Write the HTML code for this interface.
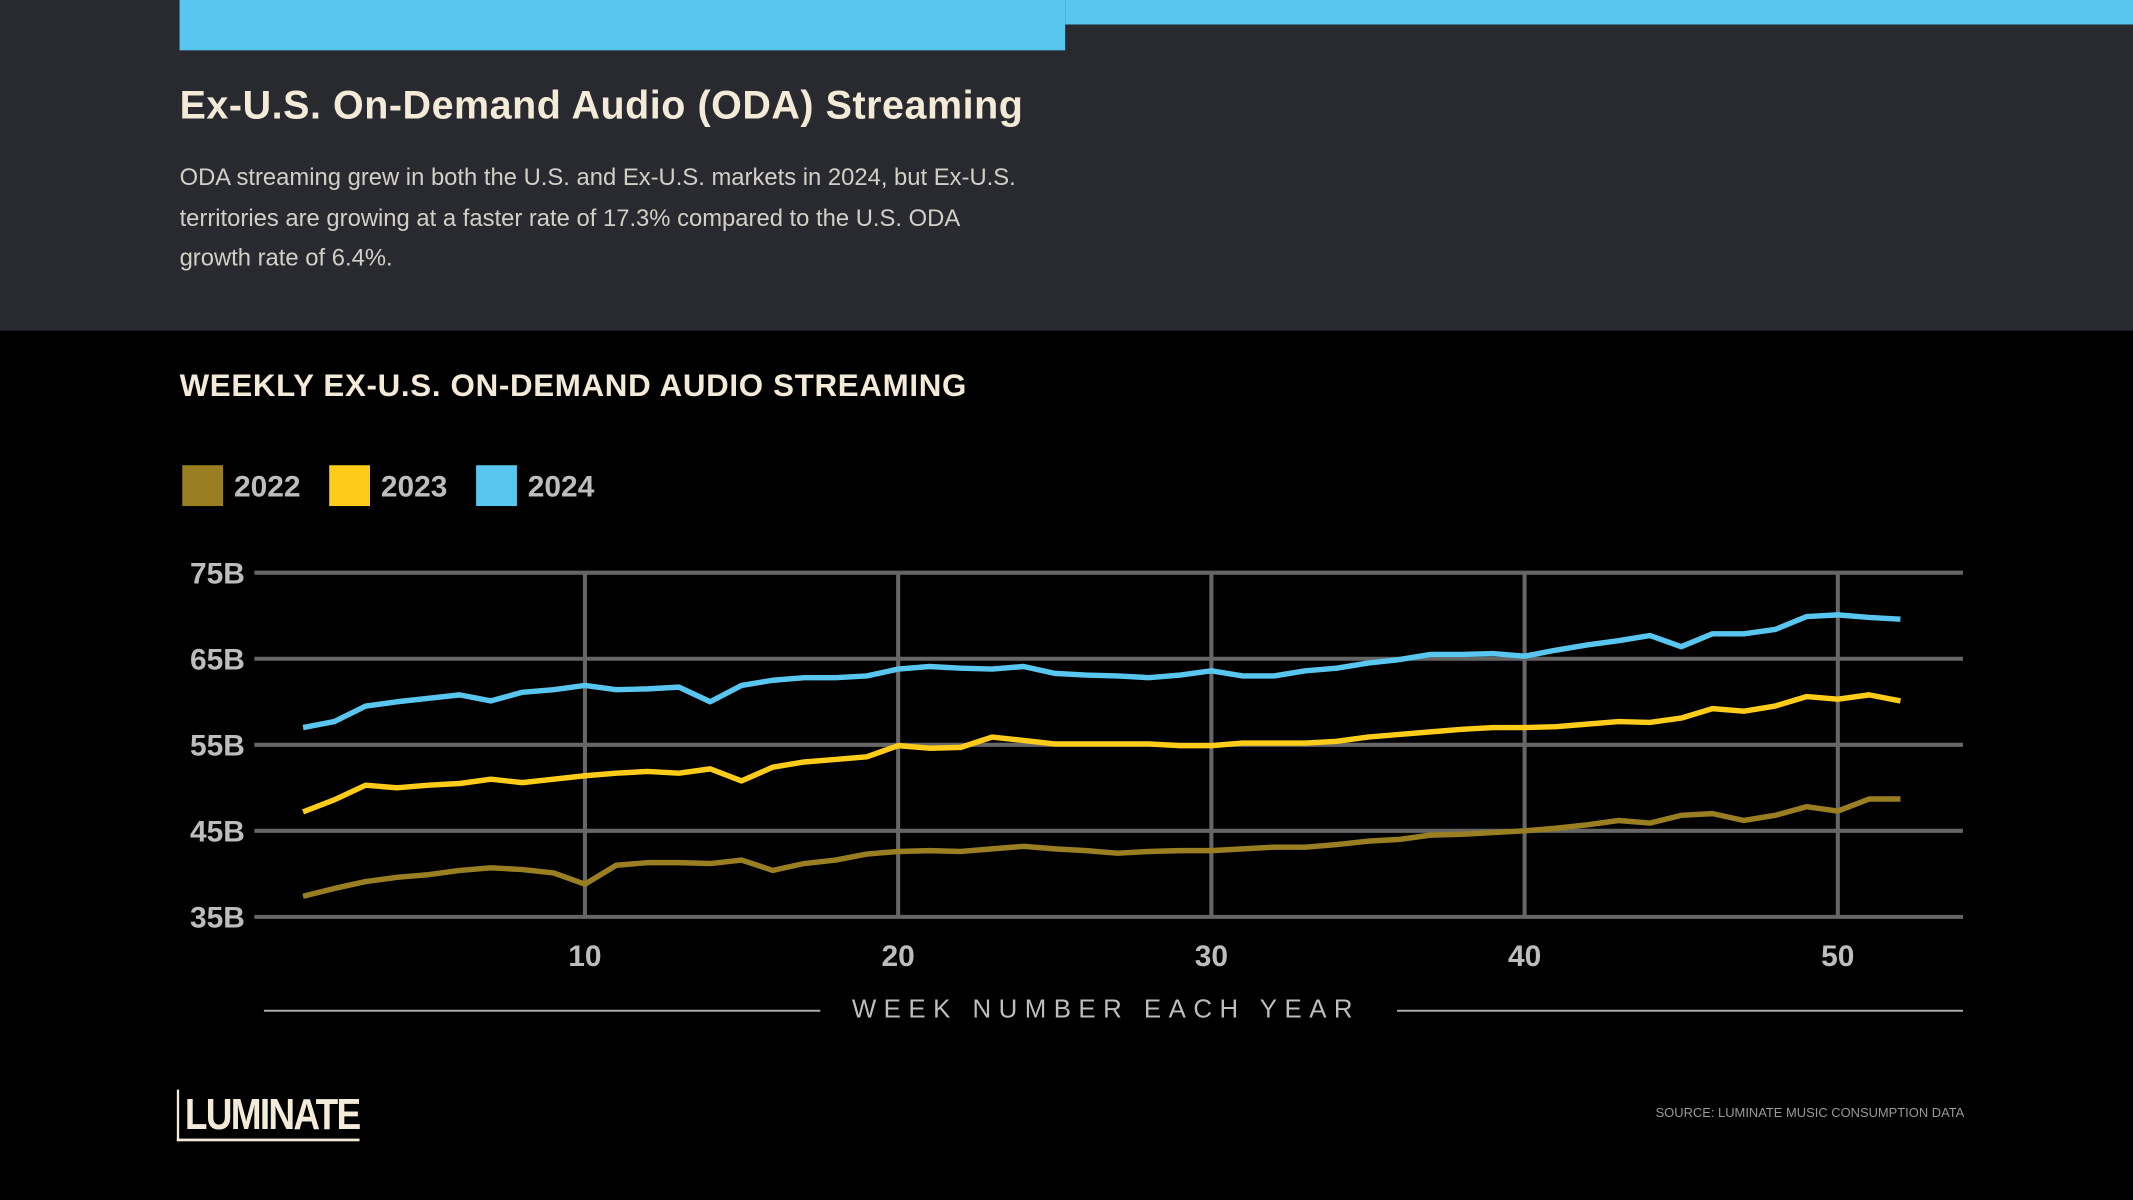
<!DOCTYPE html>
<html><head><meta charset="utf-8"><style>
html,body{margin:0;padding:0;background:#000;width:2133px;height:1200px;overflow:hidden}
#wrap{position:absolute;left:0;top:0;width:1568px;height:882px;transform:scale(1.36033);transform-origin:0 0;font-family:"Liberation Sans",sans-serif}
.abs{position:absolute}
</style></head><body>
<div id="wrap">
<div class="abs" style="left:0;top:0;width:1568px;height:243px;background:#292a2f"></div>
<div class="abs" style="left:132px;top:0;width:651px;height:37px;background:#58c6ee"></div>
<div class="abs" style="left:783px;top:0;width:785px;height:18px;background:#58c6ee"></div>
<div class="abs" style="left:132px;top:62px;font-size:29px;font-weight:bold;color:#f3ead8;letter-spacing:0.4px">Ex-U.S. On-Demand Audio (ODA) Streaming</div>
<div class="abs" style="left:132px;top:116px;width:660px;font-size:17.5px;line-height:29.5px;color:#d3cfc7">ODA streaming grew in both the U.S. and Ex-U.S. markets in 2024, but Ex-U.S.<br>territories are growing at a faster rate of 17.3% compared to the U.S. ODA<br>growth rate of 6.4%.</div>
<div class="abs" style="left:132px;top:270px;font-size:23px;font-weight:bold;color:#f3ead8;letter-spacing:0.5px">WEEKLY EX-U.S. ON-DEMAND AUDIO STREAMING</div>
<svg class="abs" style="left:0;top:0" width="1568" height="882" id="chart"></svg>
<div class="abs" style="left:130px;top:801px;height:36px;border-left:2px solid #f3ead8;border-bottom:2px solid #f3ead8;padding:0 0 0 5px;font-size:32px;font-weight:bold;color:#f3ead8;letter-spacing:-1.5px;transform:scaleX(0.85);transform-origin:0 0;line-height:36px">LUMINATE</div>
<div class="abs" style="right:124px;top:813px;font-size:9.5px;color:#999">SOURCE: LUMINATE MUSIC CONSUMPTION DATA</div>
</div>
<script>
const weeks=[];for(let i=1;i<=52;i++)weeks.push(i);
const s2022=[37.4,38.3,39.1,39.6,39.9,40.4,40.7,40.5,40.1,38.8,41.0,41.3,41.3,41.2,41.6,40.4,41.2,41.6,42.3,42.6,42.7,42.6,42.9,43.2,42.9,42.7,42.4,42.6,42.7,42.7,42.9,43.1,43.1,43.4,43.8,44.0,44.5,44.6,44.8,45.0,45.3,45.7,46.2,45.9,46.8,47.0,46.2,46.8,47.8,47.3,48.7,48.7];
const s2023=[47.2,48.6,50.3,50.0,50.3,50.5,51.0,50.6,51.0,51.4,51.7,51.9,51.7,52.2,50.8,52.4,53.0,53.3,53.6,54.9,54.6,54.7,55.9,55.5,55.1,55.1,55.1,55.1,54.9,54.9,55.2,55.2,55.2,55.4,55.9,56.2,56.5,56.8,57.0,57.0,57.1,57.4,57.7,57.6,58.1,59.2,58.9,59.5,60.6,60.3,60.8,60.1];
const s2024=[57.0,57.7,59.5,60.0,60.4,60.8,60.1,61.1,61.4,61.9,61.4,61.5,61.7,60.0,61.9,62.5,62.8,62.8,63.0,63.8,64.1,63.9,63.8,64.1,63.3,63.1,63.0,62.8,63.1,63.6,63.0,63.0,63.6,63.9,64.5,64.9,65.5,65.5,65.6,65.3,66.0,66.6,67.1,67.7,66.4,67.9,67.9,68.4,69.9,70.1,69.8,69.6];
const yTicks=[35,45,55,65,75];
const xTicks=[10,20,30,40,50];
const legendLabels=["2022","2023","2024"];
const colors=["#9a7f22","#ffcc1a","#58c6ee"];
const NS="http://www.w3.org/2000/svg";
const svg=document.getElementById('chart');
const X=w=>430+(w-10)*(1351-430)/40;
const Y=v=>674-(v-35)*(674-421)/40;
function mk(t,a){const e=document.createElementNS(NS,t);for(const k in a)e.setAttribute(k,a[k]);svg.appendChild(e);return e;}
yTicks.forEach(v=>{
 const l=mk('line',{x1:187,x2:1443,y1:Y(v),y2:Y(v),stroke:'#666','stroke-width':3});
 
 
 const t=mk('text',{x:180,y:Y(v)+8,'text-anchor':'end','font-size':22,'font-weight':'bold',fill:'#bdbdbd','font-family':'Liberation Sans, sans-serif'});
 t.textContent=v+'B';
 
 
});
xTicks.forEach(w=>{
 const l=mk('line',{x1:X(w),x2:X(w),y1:Y(75),y2:Y(35),stroke:'#666','stroke-width':3});
 
 
 const t=mk('text',{x:X(w),y:710,'text-anchor':'middle','font-size':22,'font-weight':'bold',fill:'#bdbdbd','font-family':'Liberation Sans, sans-serif'});
 t.textContent=w;
 
 
});
[s2022,s2023,s2024].forEach((s,i)=>{
 const p=mk('polyline',{points:s.map((v,j)=>X(weeks[j])+','+Y(v)).join(' '),fill:'none',stroke:colors[i],'stroke-width':4,'stroke-linejoin':'round'});
 
 
});
let lx=134;
legendLabels.forEach((lab,i)=>{
 const r=mk('rect',{x:lx,y:342,width:30,height:30,fill:colors[i]});
 
 
 const t=mk('text',{x:lx+38,y:365,'font-size':22,'font-weight':'bold',fill:'#bdbdbd','font-family':'Liberation Sans, sans-serif'});
 t.textContent=lab;
 
 
 lx+=108;
});
const a1=mk('line',{x1:194,x2:603,y1:743,y2:743,stroke:'#aaa','stroke-width':1.5});


const a2=mk('line',{x1:1027,x2:1443,y1:743,y2:743,stroke:'#aaa','stroke-width':1.5});


const at=mk('text',{x:813,y:748,'text-anchor':'middle','font-size':19,fill:'#bdbdbd','letter-spacing':'5.5px','font-family':'Liberation Sans, sans-serif'});
at.textContent='WEEK NUMBER EACH YEAR';


</script>
</body></html>
